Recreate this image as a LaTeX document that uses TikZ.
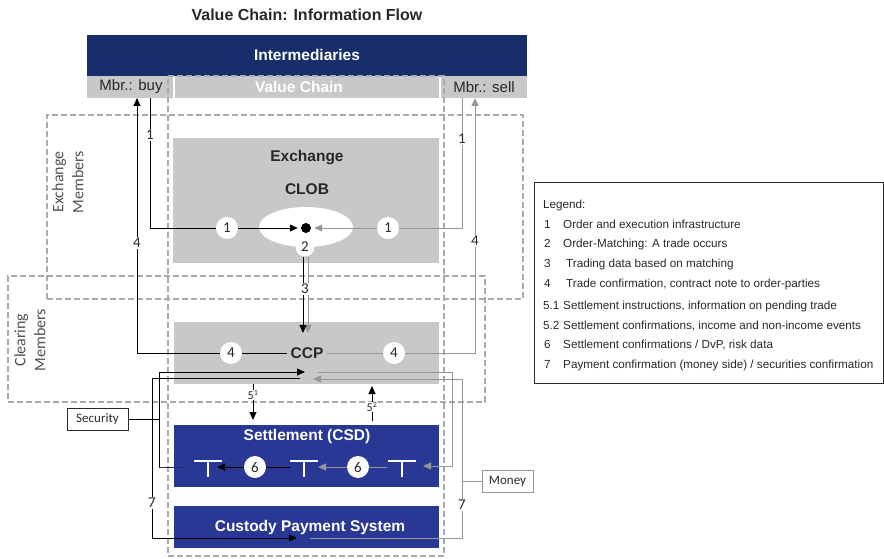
\documentclass[tikz,border=0pt]{standalone}
\usepackage{fontspec}
\setmainfont{Liberation Sans}
\newfontfamily\calfont{Carlito}
\usetikzlibrary{arrows.meta,shapes.geometric}

\definecolor{navy}{RGB}{23,46,107}
\definecolor{csdblue}{RGB}{41,56,148}
\definecolor{boxgrey}{RGB}{200,200,202}
\definecolor{dashgrey}{RGB}{170,170,170}
\definecolor{flowgrey}{RGB}{150,150,150}
\definecolor{txtgrey}{RGB}{40,40,40}
\definecolor{lblgrey}{RGB}{80,80,80}

\tikzset{
  panel/.style={anchor=north west, inner sep=0pt, outer sep=0pt},
  greypanel/.style={panel, fill=boxgrey},
  bluepanel/.style={panel, fill=csdblue},
  frame/.style={panel, draw=dashgrey, line width=1.5pt, dash pattern=on 6pt off 3pt},
  heading/.style={font=\bfseries\fontsize{15.5}{18}\selectfont},
  whitehead/.style={heading, text=white},
  darkhead/.style={heading, text=txtgrey},
  member/.style={font=\fontsize{15}{18}\selectfont, text=txtgrey},
  side/.style={font=\calfont\fontsize{16}{20}\selectfont, text=lblgrey, rotate=90, align=center},
  num/.style={font=\calfont\fontsize{15}{15}\selectfont, text=txtgrey, fill=white, inner sep=1pt},
  sup/.style={num, font=\calfont\fontsize{12}{12}\selectfont, inner sep=0.5pt},
  numcirc/.style={circle, fill=white, inner sep=0pt, minimum size=22pt,
    font=\calfont\fontsize{15}{15}\selectfont, text=txtgrey},
  tagbox/.style={draw=txtgrey, line width=0.8pt, fill=white, minimum height=22pt,
    inner sep=2pt, font=\calfont\fontsize{13}{15}\selectfont, text=txtgrey},
  blk/.style={draw=black, line width=1pt},
  gry/.style={draw=flowgrey, line width=1pt},
  tip/.style={-{Triangle[length=8pt,width=7pt]}},
  tbar/.style={draw=white, line width=1.3pt},
  legnum/.style={anchor=base west, inner sep=0pt, font=\fontsize{11.7}{13}\selectfont, text=txtgrey},
}

\begin{document}
\begin{tikzpicture}[x=1pt,y=-1pt]
\useasboundingbox (0,0) rectangle (884,559);

% title
\node[font=\bfseries\fontsize{16}{19}\selectfont, text=txtgrey] (title) at (307,15) {Value Chain: Information Flow};

% intermediaries bar
\node[panel, fill=navy, minimum width=440pt, minimum height=41pt] (inter) at (87,35) {};
\node[whitehead] (intertxt) at (307,55) {Intermediaries};
\node[greypanel, minimum width=86pt, minimum height=22pt] (buy) at (87,76) {};
\node[greypanel, minimum width=264pt, minimum height=22pt] (vcbar) at (175,76) {};
\node[greypanel, minimum width=86pt, minimum height=22pt] (sell) at (441,76) {};
\node[member] (buytxt) at (131,87) {Mbr.: buy};
\node[whitehead] (vctxt) at (299,87) {Value Chain};
\node[member] (selltxt) at (484,87) {Mbr.: sell};

% dashed member frames
\node[frame, minimum width=276pt, minimum height=480pt] (vcframe) at (168,76) {};
\node[frame, minimum width=476pt, minimum height=184pt] (exframe) at (47,115) {};
\node[frame, minimum width=477pt, minimum height=126pt] (clframe) at (8,276) {};
\node[side] (exlbl) at (68,182) {Exchange\\Members};
\node[side] (cllbl) at (30,340) {Clearing\\Members};

% exchange
\node[greypanel, minimum width=266pt, minimum height=125pt] (exch) at (173,138) {};
\node[darkhead] (exchtxt) at (307,158) {Exchange};
\node[darkhead] (clobtxt) at (307,189) {CLOB};
\node[ellipse, fill=white, minimum width=94pt, minimum height=40pt, inner sep=0pt] (clob) at (306,227) {};
\node[numcirc, minimum size=19pt] (n2) at (305,247) {2};
\node[circle, fill=black, minimum size=10pt, inner sep=0pt] (dot) at (306,228) {};

% CCP, CSD, payment system
\node[greypanel, minimum width=265pt, minimum height=62pt] (ccp) at (174,322) {};
\node[darkhead] (ccptxt) at (307,353) {CCP};
\node[bluepanel, minimum width=265pt, minimum height=62pt] (csd) at (174,425) {};
\node[whitehead] (csdtxt) at (307,436) {Settlement (CSD)};
\node[bluepanel, minimum width=265pt, minimum height=42pt] (cps) at (174,506) {};
\node[whitehead] (cpstxt) at (310,527) {Custody Payment System};

% accounts in the CSD
\foreach \x in {208,304,402} {\draw[tbar] (\x-14,461) -- (\x+14,461) (\x,461) -- (\x,477);}

% numbered markers
\node[numcirc] (c1l) at (227,228) {1};
\node[numcirc] (c1r) at (388,228) {1};
\node[numcirc] (c4l) at (231,353) {4};
\node[numcirc] (c4r) at (394,353) {4};
\node[numcirc] (c6l) at (255,467) {6};
\node[numcirc] (c6r) at (358,467) {6};

% side boxes
\node[tagbox, minimum width=61pt] (sec) at (97.5,419) {Security};
\node[tagbox, draw=flowgrey, minimum width=51pt] (money) at (507.5,481) {Money};

% bend points
\coordinate (b1s) at (150,98);  \coordinate (b1k) at (150,228);
\coordinate (g1s) at (462,98);  \coordinate (g1k) at (462,228);
\coordinate (b4t) at (137,98);  \coordinate (b4k) at (137,353);
\coordinate (g4t) at (475,98);  \coordinate (g4k) at (475,353);
\coordinate (t3b) at (303,333); \coordinate (t3g) at (308,333);
\coordinate (sA1) at (182,467); \coordinate (sA2) at (159,467);
\coordinate (sA3) at (159,372); \coordinate (sA4) at (305,372);
\coordinate (sB1) at (300,378); \coordinate (sB2) at (152,378);
\coordinate (sB3) at (152,538); \coordinate (sB4) at (297,538);
\coordinate (mC1) at (318,372); \coordinate (mC2) at (452,372);
\coordinate (mC3) at (452,466); \coordinate (mC4) at (423,466);
\coordinate (mD1) at (310,538); \coordinate (mD2) at (462,538);
\coordinate (mD3) at (462,379); \coordinate (mD4) at (313,379);
\coordinate (t2l) at (290,467); \coordinate (t1tip) at (217,467);
\coordinate (t3l) at (387,467); \coordinate (t2tip) at (318,467);
\coordinate (f51) at (253,420); \coordinate (f52s) at (372,421);
\coordinate (f52) at (372,386);

% 1: orders into the order book
\draw[blk] (b1s) -- (b1k) -- (c1l);
\draw[blk,tip,shorten >=3pt] (c1l) -- (dot);
\draw[gry] (g1s) -- (g1k) -- (c1r);
\draw[gry,tip,shorten >=3pt] (c1r) -- (dot);

% 3: trading data to the CCP
\draw[gry,tip] (n2.south -| t3g) -- (t3g);
\draw[blk,tip] (n2.south -| t3b) -- (t3b);

% 4: trade confirmations back to the members
\draw[blk] (ccptxt) -- (c4l);
\draw[blk,tip] (c4l) -- (b4k) -- (b4t);
\draw[gry] (ccptxt) -- (c4r);
\draw[gry,tip] (c4r) -- (g4k) -- (g4t);

% 5: settlement instructions and confirmations
\draw[blk,tip] (ccp.south -| f51) -- (f51);
\draw[blk,tip] (f52s) -- (f52);

% security side
\draw[blk,tip] (sA1) -- (sA2) -- (sA3) -- (sA4);
\draw[navy,line width=1pt] (sA1) -- (sA2);
\draw[blk,tip] (sB1) -- (sB2) -- (sB3) -- (sB4);
\draw[blk] (sec.east) -- (sec.east -| sA2);

% money side
\draw[gry,tip] (mC1) -- (mC2) -- (mC3) -- (mC4);
\draw[gry,tip] (mD1) -- (mD2) -- (mD3) -- (mD4);
\draw[gry] (money.west) -- (money.west -| mD2);

% 6: DvP within the CSD
\draw[blk] (t2l) -- (c6l);
\draw[blk,tip] (c6l) -- (t1tip);
\draw[gry] (t3l) -- (c6r);
\draw[gry,tip] (c6r) -- (t2tip);

% line labels
\node[num] (l1l) at (150,135) {1};
\node[num] (l1r) at (462,139) {1};
\node[num] (l4l) at (137,243) {4};
\node[num] (l4r) at (475,241) {4};
\node[num] (l3) at (305,289) {3};
\node[num] (l7l) at (152,503) {7};
\node[num] (l7r) at (462,505) {7};
\node[sup] (l51) at (253,395) {5\textsuperscript{1}};
\node[sup] (l52) at (372,407) {5\textsuperscript{2}};

% legend
\node[panel, draw=txtgrey, line width=1pt, minimum width=349pt, minimum height=200pt] (legend) at (534,183) {};
\node[legnum] (lg0) at (543,208) {Legend:};
\node[legnum] (lg1n) at (544,228) {1};
\node[legnum] (lg1) at (563,228) {Order and execution infrastructure};
\node[legnum] (lg2n) at (544,247) {2};
\node[legnum] (lg2) at (563,247) {Order-Matching: A trade occurs};
\node[legnum] (lg3n) at (544,267) {3};
\node[legnum] (lg3) at (566,267) {Trading data based on matching};
\node[legnum] (lg4n) at (544,287) {4};
\node[legnum] (lg4) at (566,287) {Trade confirmation, contract note to order-parties};
\node[legnum] (lg51n) at (543,309) {5.1};
\node[legnum] (lg51) at (563,309) {Settlement instructions, information on pending trade};
\node[legnum] (lg52n) at (543,329) {5.2};
\node[legnum] (lg52) at (563,329) {Settlement confirmations, income and non-income events};
\node[legnum] (lg6n) at (544,348) {6};
\node[legnum] (lg6) at (563,348) {Settlement confirmations / DvP, risk data};
\node[legnum] (lg7n) at (544,368) {7};
\node[legnum] (lg7) at (563,368) {Payment confirmation (money side) / securities confirmation};
\end{tikzpicture}
\end{document}
